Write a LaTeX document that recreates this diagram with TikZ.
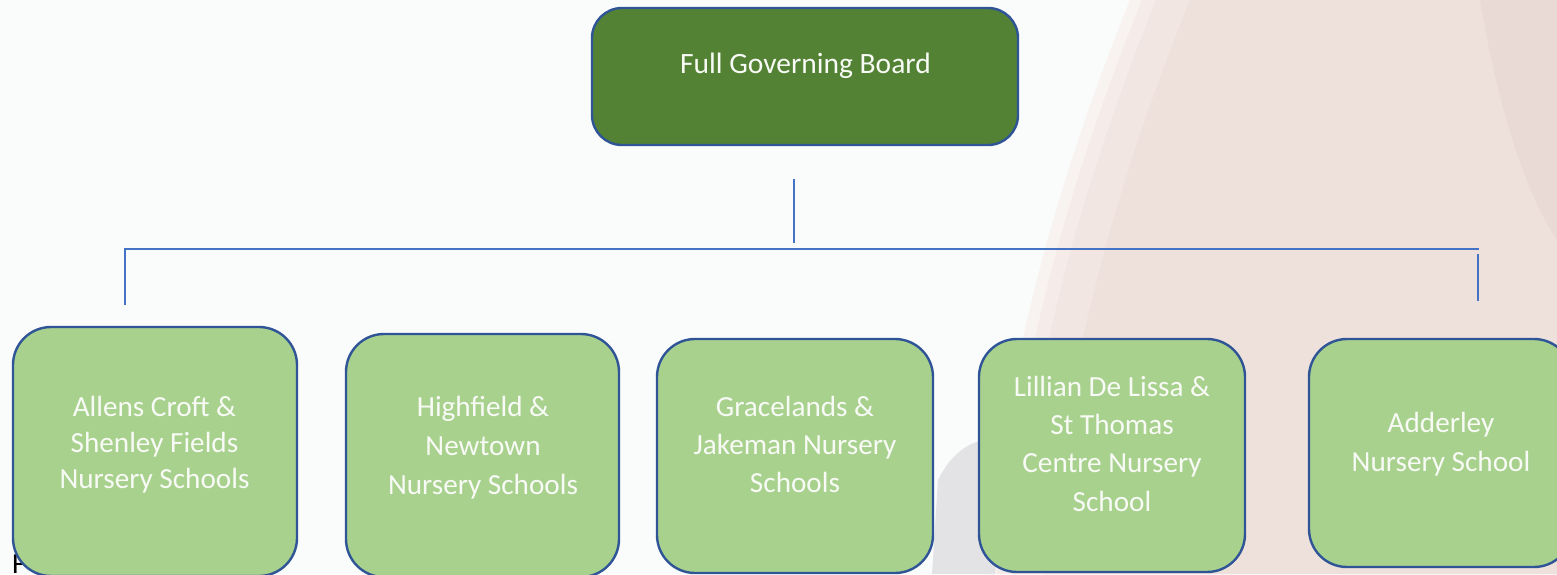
\documentclass[tikz,border=0pt]{standalone}
\usepackage{fontspec}
\setmainfont{Carlito}
\definecolor{bgwhite}{HTML}{FAFBFB}
\definecolor{photoA}{HTML}{F8F2F0}
\definecolor{photoB}{HTML}{F5ECE9}
\definecolor{photoC}{HTML}{F2E6E2}
\definecolor{photoD}{HTML}{EEE0DB}
\definecolor{photoE}{HTML}{E9DAD5}
\definecolor{shadowgray}{HTML}{E3E3E6}
\definecolor{darkgreen}{HTML}{548235}
\definecolor{lightgreen}{HTML}{A9D18E}
\definecolor{borderblue}{HTML}{2F5597}
\definecolor{lineblue}{HTML}{4472C4}
\definecolor{textwhite}{HTML}{F7FAF5}
\newcommand{\tstrut}{\rule[-0.25em]{0pt}{1em}}
\tikzset{
  topbox/.style={draw=borderblue, line width=2.4pt, fill=darkgreen, rounded corners=30pt, inner sep=0pt},
  lowbox/.style={draw=borderblue, line width=2.4pt, fill=lightgreen, rounded corners=38pt, inner sep=0pt},
  lbl/.style={text=textwhite, align=center, inner sep=0pt},
  conn/.style={draw=lineblue, line width=1.4pt}
}
\begin{document}
\begin{tikzpicture}[x=1pt,y=-1pt]
\useasboundingbox (0,0) rectangle (1557,574);
% background
\fill[bgwhite] (0,0) rectangle (1557,574);
\foreach \s/\c in {0/photoA,12/photoB,26/photoC,60/photoD} {
  \fill[\c]
    (1130+\s,0) .. controls (1070+\s,150) and (1010+\s,330) .. (985+\s,574) -- (1557,574) -- (1557,0) -- cycle;
}
\fill[photoE] (1480,0) .. controls (1500,120) and (1530,200) .. (1557,240) -- (1557,0) -- cycle;
\fill[shadowgray]
  (938,480) .. controls (955,445) and (985,432) .. (1005,445) -- (995,574) -- (932,574) -- cycle;
% partial text behind first box
\node[anchor=base west, inner sep=0pt, font={\fontsize{29}{35}\selectfont}] (ftext) at (12,573) {F};
% top box
\node[topbox, minimum width=426pt, minimum height=137pt] (top) at (805,76.5) {};
\node[lbl, font={\fontsize{29.5}{36}\selectfont}] (toplbl) at (805.5,66.5) {\tstrut Full Governing Board};
% connectors
\coordinate (v1) at (794,179);
\coordinate (v2) at (794,243);
\coordinate (h1) at (124,249);
\coordinate (h2) at (1479,249);
\coordinate (l1) at (125,250);
\coordinate (l2) at (125,305);
\coordinate (r1) at (1478,254);
\coordinate (r2) at (1478,301);
\draw[conn] (v1) -- (v2);
\draw[conn] (h1) -- (h2);
\draw[conn] (l1) -- (l2);
\draw[conn] (r1) -- (r2);
% lower boxes
\node[lowbox, minimum width=284pt, minimum height=249pt] (b1) at (155,451.5) {};
\node[lowbox, minimum width=273pt, minimum height=243pt] (b2) at (482.5,455.5) {};
\node[lowbox, minimum width=276pt, minimum height=234pt] (b3) at (795,456) {};
\node[lowbox, minimum width=266pt, minimum height=233pt] (b4) at (1112,455.5) {};
\node[lowbox, minimum width=263pt, minimum height=228pt] (b5) at (1440.5,453) {};
% labels
\node[lbl, font={\fontsize{29.2}{36}\selectfont}] (t1) at (154.5,445)
  {\tstrut Allens Croft \&\\Shenley Fields\\Nursery Schools\tstrut};
\node[lbl, font={\fontsize{29.2}{39}\selectfont}] (t2) at (483,448)
  {\tstrut Highfield \&\\Newtown\\Nursery Schools\tstrut};
\node[lbl, font={\fontsize{29.2}{38}\selectfont}] (t3) at (795,447)
  {\tstrut Gracelands \&\\Jakeman Nursery\\Schools\tstrut};
\node[lbl, font={\fontsize{29.2}{38.3}\selectfont}] (t4) at (1112,446.5)
  {\tstrut Lillian De Lissa \&\\St Thomas\\Centre Nursery\\School\tstrut};
\node[lbl, font={\fontsize{29.2}{39}\selectfont}] (t5) at (1441,444.5)
  {\tstrut Adderley\\Nursery School\tstrut};
\end{tikzpicture}
\end{document}
